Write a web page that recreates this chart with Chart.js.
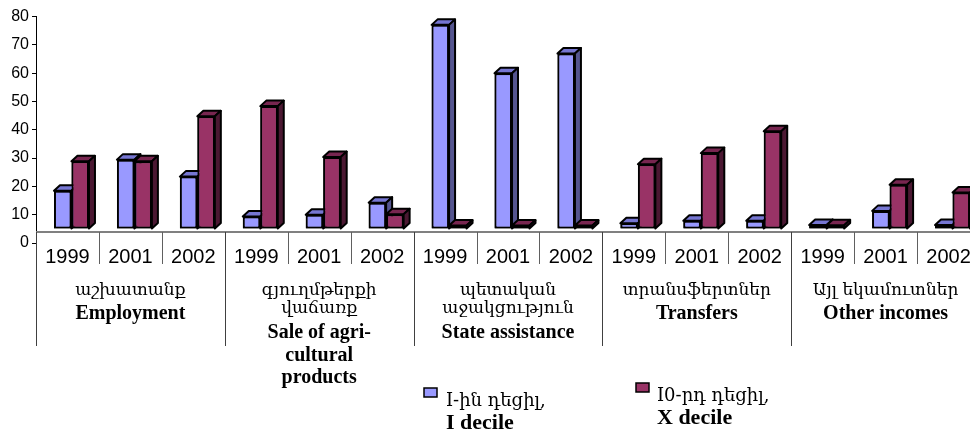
<!DOCTYPE html>
<html>
<head>
<meta charset="utf-8">
<script src="https://cdn.jsdelivr.net/npm/chart.js@4.4.1/dist/chart.umd.min.js"></script>
<style>
    html, body { margin: 0; padding: 0; background: #fff; overflow: hidden; }
    #wrap { width: 1000px; height: 436px; }
</style>
</head>
<body>
<div id="wrap"><canvas id="incomeChart"></canvas></div>
<script>
// datos del grafico
const years = ["1999", "2001", "2002"];
const groupsArm = [["աշխատանք"], ["գյուղմթերքի", "վաճառք"], ["պետական", "աջակցություն"], ["տրանսֆերտներ"], ["Այլ եկամուտներ"]];
const groupsEng = [["Employment"], ["Sale of agri-", "cultural", "products"], ["State assistance"], ["Transfers"], ["Other incomes"]];
const categories = groupsArm.flatMap(() => years);

const decile1 = [13.5, 24.5, 18.5, 4.4, 5.0, 9.3, 72.1, 55.0, 62.0, 2.0, 2.9, 2.9, 1.4, 6.4, 1.4];
const decile10 = [23.9, 23.9, 39.8, 43.4, 25.4, 5.2, 1.2, 1.2, 1.2, 22.9, 26.8, 34.5, 1.3, 15.6, 12.9];

const seriesArm = ["I-ին դեցիլ,", "I0-րդ դեցիլ,"];
const seriesEng = ["I decile", "X decile"];

// colores: frente, arriba, lado
const colores = [
    { front: "#9999FF", top: "#7676D2", side: "#55558F" },
    { front: "#993366", top: "#782650", side: "#4B1832" }
];

const depthX = 6, depthY = -5.5;   // profundidad 3D
const shiftX = 4, shiftY = -14;    // barras metidas hacia el fondo

const armFont = '17px "DejaVu Serif", serif';
const engFont = 'bold 20px "Liberation Serif", "Times New Roman", serif';

function poligono(ctx, pts, fill) {
    ctx.beginPath();
    ctx.moveTo(pts[0][0], pts[0][1]);
    pts.slice(1).forEach(p => ctx.lineTo(p[0], p[1]));
    ctx.closePath();
    ctx.fillStyle = fill;
    ctx.fill();
    ctx.stroke();
}

const columnas3d = {
    id: "columnas3d",
    beforeDatasetsDraw(chart) {
        chart.ctx.save();
        chart.ctx.translate(shiftX, shiftY);
    },
    afterDatasetsDraw(chart) {
        const ctx = chart.ctx;
        chart.data.datasets.forEach((ds, i) => {
            const meta = chart.getDatasetMeta(i);
            meta.data.forEach(bar => {
                bar.draw(ctx); // repintar el frente en orden
                const { x, y, base, width } = bar.getProps(["x", "y", "base", "width"], true);
                const x0 = x - width / 2, x1 = x + width / 2;
                ctx.lineWidth = 2;
                ctx.strokeStyle = "#000";
                ctx.lineJoin = "round";
                poligono(ctx, [[x0, y], [x1, y], [x1 + depthX, y + depthY], [x0 + depthX, y + depthY]], colores[i].top);
                poligono(ctx, [[x1, y], [x1 + depthX, y + depthY], [x1 + depthX, base + depthY], [x1, base]], colores[i].side);
            });
        });
        ctx.restore();
    }
};

const ejeCategorias = {
    id: "ejeCategorias",
    afterDraw(chart) {
        const ctx = chart.ctx;
        const xs = chart.scales.x;
        const w = (xs.right - xs.left) / categories.length;
        const axisY = 232;
        ctx.save();
        // linea del eje
        ctx.strokeStyle = "#808080";
        ctx.lineWidth = 2;
        ctx.beginPath();
        ctx.moveTo(xs.left, axisY);
        ctx.lineTo(xs.right, axisY);
        ctx.stroke();
        // separadores
        for (let i = 0; i <= categories.length; i++) {
            const px = Math.round(xs.left + i * w) + 0.5;
            ctx.beginPath();
            if (i % years.length === 0) {
                ctx.strokeStyle = "#404040";
                ctx.moveTo(px, axisY);
                ctx.lineTo(px, 346);
            } else {
                ctx.strokeStyle = "#606060";
                ctx.moveTo(px, axisY);
                ctx.lineTo(px, 264);
            }
            ctx.lineWidth = 1;
            ctx.stroke();
        }
        // etiquetas de grupo
        ctx.fillStyle = "#000";
        ctx.textAlign = "center";
        ctx.textBaseline = "middle";
        groupsArm.forEach((lineas, g) => {
            const cx = xs.left + (g + 0.5) * years.length * w;
            let y = 291;
            ctx.font = armFont;
            lineas.forEach(t => { ctx.fillText(t, cx, y); y += 17.5; });
            y += lineas.length > 1 ? 7 : 5.5;
            ctx.font = engFont;
            groupsEng[g].forEach(t => { ctx.fillText(t, cx, y); y += 22.5; });
        });
        // leyenda
        const leyenda = [
            { box: [424, 388], text: [446, 401.5] },
            { box: [636, 383], text: [657, 396.5] }
        ];
        leyenda.forEach((l, i) => {
            ctx.fillStyle = colores[i].front;
            ctx.fillRect(l.box[0], l.box[1], 13, 9);
            ctx.strokeStyle = "#000";
            ctx.lineWidth = 1.5;
            ctx.strokeRect(l.box[0], l.box[1], 13, 9);
            ctx.fillStyle = "#000";
            ctx.textAlign = "left";
            ctx.font = '18px "DejaVu Serif", serif';
            ctx.fillText(seriesArm[i], l.text[0], l.text[1]);
            ctx.font = 'bold 22px "Liberation Serif", serif';
            ctx.fillText(seriesEng[i], l.text[0], l.text[1] + 21.5);
        });
        ctx.restore();
    }
};

new Chart(document.getElementById("incomeChart"), {
    type: "bar",
    data: {
        labels: categories,
        datasets: [
            { label: seriesEng[0], data: decile1, backgroundColor: colores[0].front },
            { label: seriesEng[1], data: decile10, backgroundColor: colores[1].front }
        ]
    },
    options: {
        responsive: true,
        maintainAspectRatio: false,
        animation: false,
        layout: { padding: { top: 16.5, right: 20, left: 0, bottom: 0 } },
        datasets: {
            bar: {
                categoryPercentage: 0.556,
                barPercentage: 1.0,
                borderColor: "#000",
                borderWidth: 2,
                borderSkipped: false,
                clip: false
            }
        },
        plugins: {
            legend: { display: false },
            tooltip: { enabled: false }
        },
        scales: {
            x: {
                grid: { display: false, drawTicks: false },
                border: { display: false },
                ticks: {
                    color: "#000",
                    font: { family: '"Liberation Sans", Arial, sans-serif', size: 20 },
                    padding: 2,
                    maxRotation: 0,
                    autoSkip: false
                },
                afterFit: s => { s.height = 193; }
            },
            y: {
                min: 0,
                max: 80,
                ticks: {
                    stepSize: 10,
                    color: "#000",
                    font: { family: '"Liberation Sans", Arial, sans-serif', size: 16 },
                    padding: 3
                },
                grid: { drawOnChartArea: false, tickLength: 4, color: "#000" },
                border: { color: "#000", width: 1 },
                afterFit: s => { s.width = 36; }
            }
        }
    },
    plugins: [columnas3d, ejeCategorias]
});
</script>
</body>
</html>
